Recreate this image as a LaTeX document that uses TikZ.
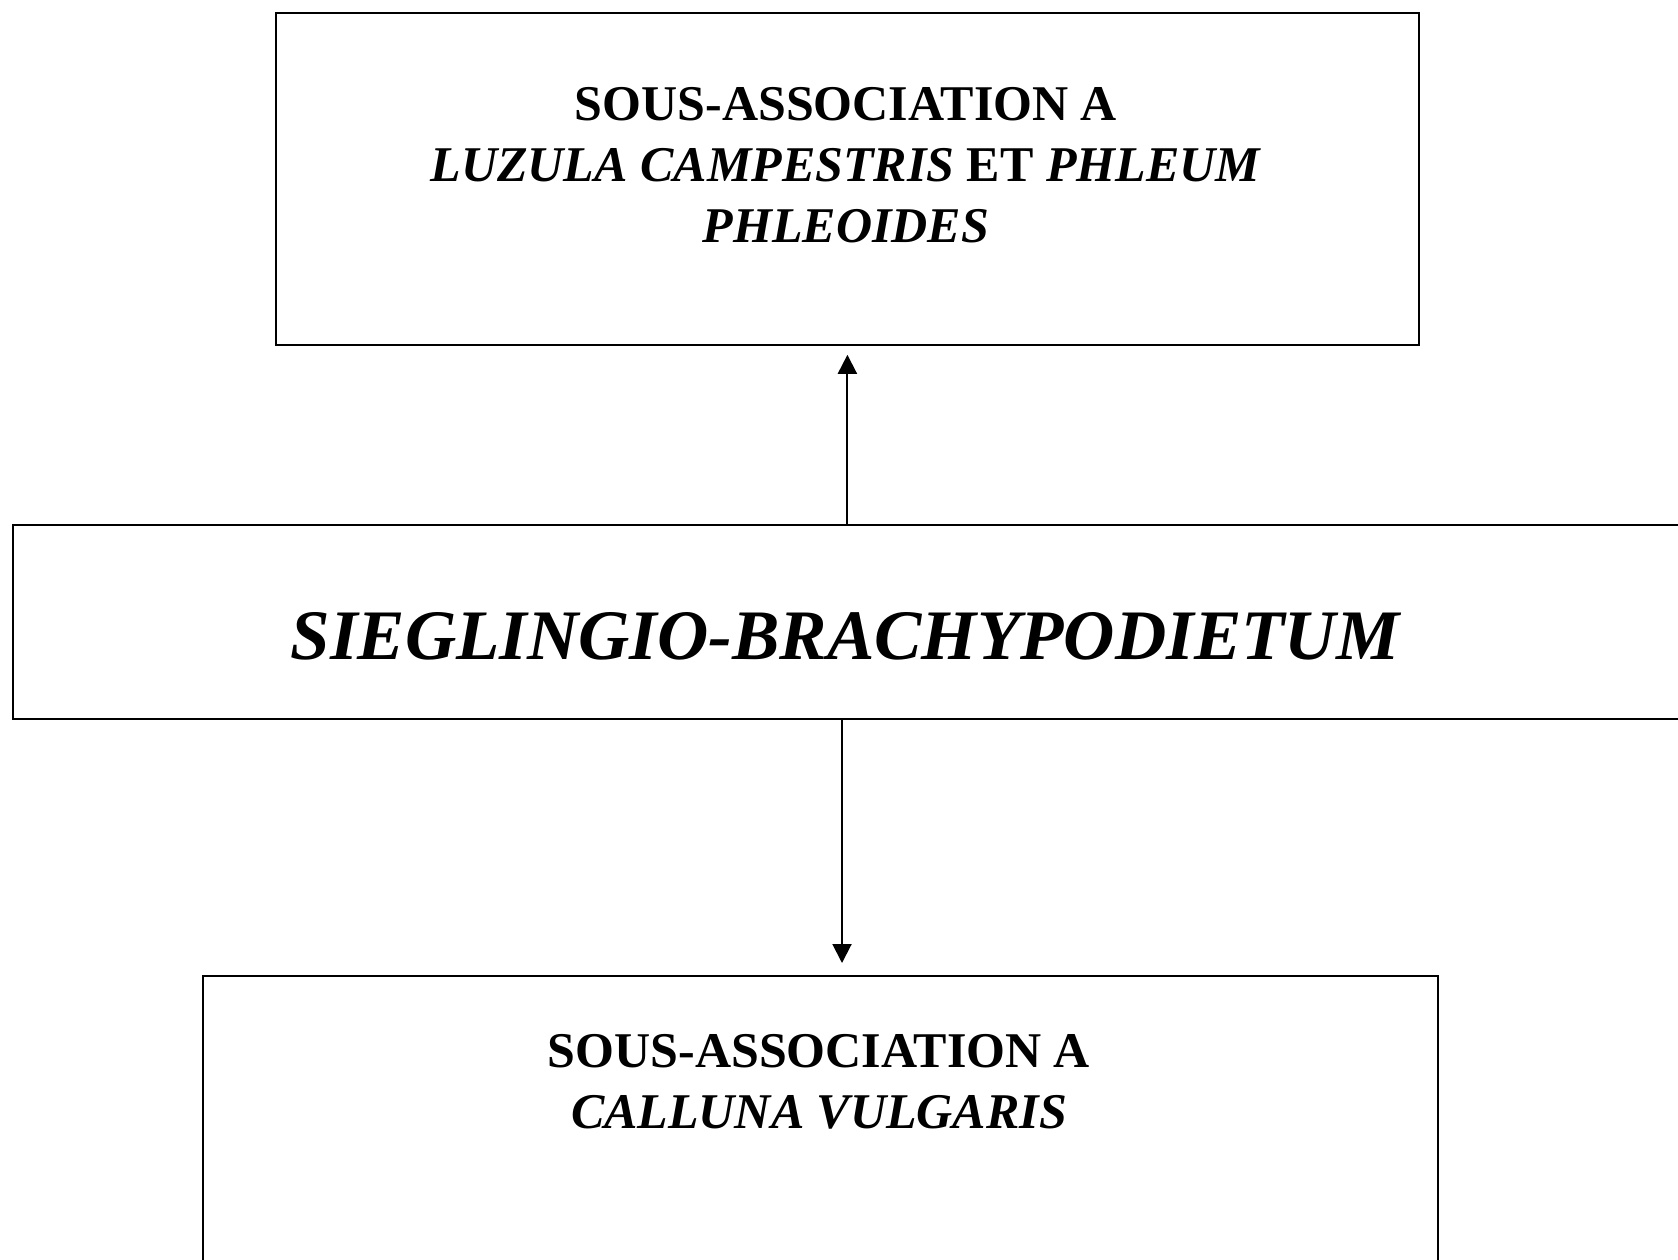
\documentclass[tikz,border=0pt]{standalone}
\usepackage{fontspec}
\setmainfont{Liberation Serif}
\usepackage{tikz}
\usetikzlibrary{arrows.meta}

\tikzset{
  box/.style={draw,line width=1.8pt,minimum width=#1,inner sep=0pt},
  lbl/.style={align=center,font=\fontsize{50}{61}\selectfont\bfseries,inner sep=0pt},
  tip/.style={-{Triangle[length=19pt,width=19pt]},line width=2pt}
}

\begin{document}
\begin{tikzpicture}[x=1pt,y=1pt]
  \useasboundingbox (0,0) rectangle (1678,-1260);
  \clip (0,0) rectangle (1678,-1260);
  % boxes
  \node[box=1143pt,minimum height=332pt,anchor=north west] (top) at (275,-12) {};
  \node[box=1720pt,minimum height=194pt,anchor=north west] (mid) at (12,-524) {};
  \node[box=1235pt,minimum height=420pt,anchor=north west] (bot) at (202,-975) {};
  % texts
  \node[lbl] (toplbl) at (846,-165) {SOUS-ASSOCIATION A\\
    \textit{LUZULA CAMPESTRIS} ET \textit{PHLEUM}\\ \textit{PHLEOIDES}};
  \node[lbl,font=\fontsize{71}{80}\selectfont\bfseries\itshape] (midlbl) at (845,-636)
    {SIEGLINGIO-BRACHYPODIETUM};
  \node[lbl] (botlbl) at (819,-1082) {SOUS-ASSOCIATION A\\ \textit{CALLUNA VULGARIS}};
  % arrows
  \coordinate (dn) at (842,-963);
  \draw[tip] (mid.north -| top.south) -- ([yshift=-9pt]top.south);
  \draw[tip] (mid.south -| dn) -- (dn);
\end{tikzpicture}
\end{document}
